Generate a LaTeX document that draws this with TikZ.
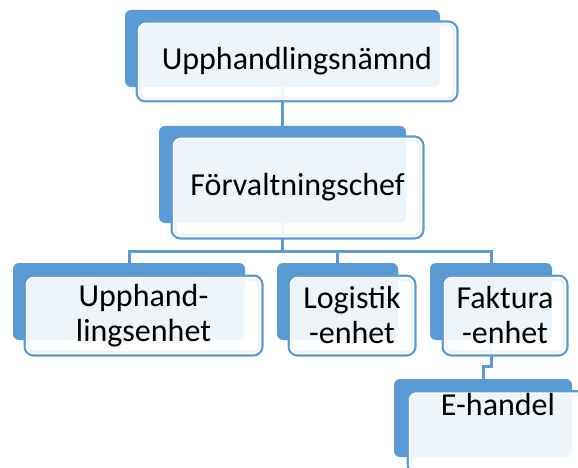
\documentclass[tikz,border=0pt]{standalone}
\usepackage{fontspec}
\setmainfont{Carlito}
\usetikzlibrary{backgrounds}
\definecolor{boxblue}{HTML}{5B9BD5}

\begin{document}
\begin{tikzpicture}[x=1pt, y=-1pt]

	\tikzstyle backbox=[fill=boxblue, rounded corners=6pt, inner sep=0pt];
	\tikzstyle frontbox=[fill=white, fill opacity=0.9, text opacity=1, draw=white, line width=1.5pt,
		preaction={draw=boxblue, line width=6pt}, rounded corners=7pt, inner sep=2pt,
		align=center, font=\fontsize{32}{35}\selectfont];
	\tikzstyle link=[draw=boxblue, line width=3pt];

	\useasboundingbox (0,0) rectangle (578,468);

		% blue boxes behind
		\foreach \nm/\x/\y/\w/\h in {upph/282.5/48.5/315/77, forv/282.5/174.5/247/97,
				enh/129/301.5/232/77, logi/337.5/301.5/121/77, fakt/491/301.5/122/77, ehan/483/418/178/78}
			\node[backbox, minimum width=\w pt, minimum height=\h pt] (\nm-b) at (\x,\y) {};

		% text boxes
		\node[frontbox, minimum width=317pt, minimum height=76pt] (upph) at (297,61.5) {Upphandlingsnämnd};
		\node[frontbox, minimum width=248pt, minimum height=98pt] (forv) at (297.5,187.5) {Förvaltningschef};
		\node[frontbox, minimum width=234pt, minimum height=76pt] (enh) at (143.5,315.5) {Upphand-\\lingsenhet};
		\node[frontbox, minimum width=123pt, minimum height=76pt] (logi) at (352,315.5) {Logistik\\-enhet};
		\node[frontbox, minimum width=121pt, minimum height=76pt] (fakt) at (505,315.5) {Faktura\\-enhet};
		\node[frontbox, minimum width=177pt, minimum height=77pt, text height=20pt, text depth=54pt] (ehan) at (498,432) {E-handel};

		\coordinate (bar) at (282.5,251);
		\coordinate (kink) at (483,366);

		\begin{scope}[on background layer]
			\draw[link] (upph-b) -- (forv-b);
			\foreach \c in {enh,logi,fakt}
				\draw[link] (forv-b.south) |- (bar -| \c-b.north) -- (\c-b.north);
			\draw[link] (fakt-b.south) |- (kink) -- (ehan-b.north);
		\end{scope}

\end{tikzpicture}
\end{document}
